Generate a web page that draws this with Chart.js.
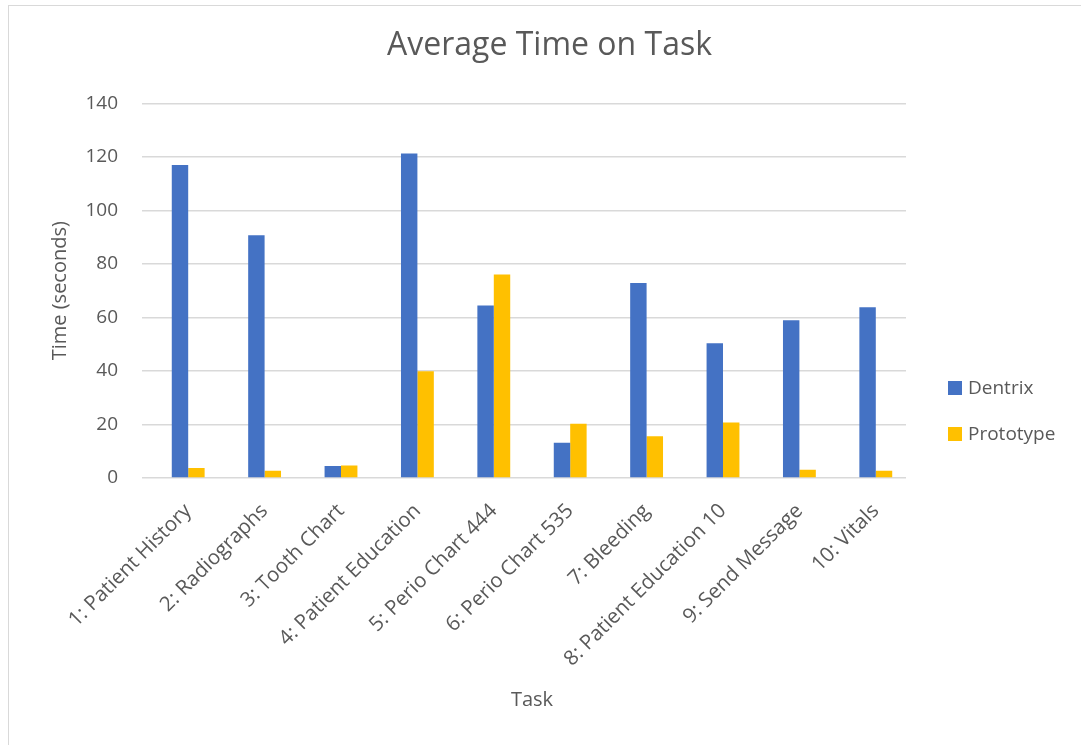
<!DOCTYPE html>
<html>
<head>
<meta charset="utf-8">
<script src="https://cdn.jsdelivr.net/npm/chart.js@4"></script>
<style>
  body { margin: 0; background: #fff; }
  #wrap { position: relative; width: 1081px; height: 745px; }
  #frame { position: absolute; left: 8px; top: 5px; right: -2px; bottom: -2px; border-left: 1.5px solid #d9d9d9; border-top: 1.5px solid #d9d9d9; }
  canvas { position: absolute; left: 0; top: 0; }
</style>
</head>
<body>
<div id="wrap">
  <div id="frame"></div>
  <canvas id="chart" width="1081" height="745"></canvas>
</div>
<script>
const tasks = ['1: Patient History', '2: Radiographs', '3: Tooth Chart', '4: Patient Education',
    '5: Perio Chart 444', '6: Perio Chart 535', '7: Bleeding', '8: Patient Education 10',
    '9: Send Message', '10: Vitals'];
const dentrix = [117, 90.7, 4.5, 121.3, 64.5, 13.2, 72.9, 50.4, 59, 63.8];
const prototype = [3.7, 2.7, 4.7, 39.9, 76.1, 20.3, 15.6, 20.7, 3.1, 2.7];
const yTicks = [0, 20, 40, 60, 80, 100, 120, 140];

const textColor = '#595959';
const font = 'Open Sans';

// Excel-like legend on the right
const sideLegend = {
    id: 'sideLegend',
    afterDraw(chart) {
        const c = chart.ctx;
        c.save();
        c.font = '19px "' + font + '"';
        c.textBaseline = 'middle';
        chart.data.datasets.forEach((ds, i) => {
            const y = 388 + i * 46;
            c.fillStyle = ds.backgroundColor;
            c.fillRect(948, y - 7, 14, 14);
            c.fillStyle = textColor;
            c.fillText(ds.label, 968, y + 1);
        });
        c.restore();
    }
};

// categories sit a few px right of the gridlines in the original
const shiftX = {
    id: 'shiftX',
    afterLayout(chart) {
        const x = chart.scales.x;
        x.left += 8;
        x.right += 8;
        x.configure();
    }
};

const chart = new Chart(document.getElementById('chart'), {
    type: 'bar',
    data: {
        labels: tasks,
        datasets: [{
            label: 'Dentrix',
            data: dentrix,
            backgroundColor: '#4472C4',
            categoryPercentage: 0.43,
            barPercentage: 1
        }, {
            label: 'Prototype',
            data: prototype,
            backgroundColor: '#FFC000',
            categoryPercentage: 0.43,
            barPercentage: 1
        }]
    },
    options: {
        responsive: false,
        animation: false,
        layout: { padding: { left: 18, right: 0, top: 0, bottom: 0 } },
        plugins: {
            legend: { display: false },
            tooltip: { enabled: false },
            title: {
                display: true,
                text: 'Average Time on Task',
                color: textColor,
                font: { family: font, size: 32, weight: 'normal', lineHeight: 1.2 },
                padding: { top: 27, bottom: 38 }
            }
        },
        scales: {
            x: {
                grid: { display: false },
                border: { display: false },
                ticks: {
                    color: textColor,
                    font: { family: font, size: 20.5 },
                    minRotation: 45,
                    maxRotation: 45,
                    autoSkip: false,
                    padding: 13
                },
                title: {
                    display: true,
                    text: 'Task',
                    color: textColor,
                    font: { family: font, size: 20 },
                    padding: { top: 4, bottom: 33 }
                },
                afterFit(scale) { scale.height = 267; }
            },
            y: {
                min: 0,
                max: 140,
                afterBuildTicks(scale) { scale.ticks = yTicks.map(v => ({ value: v })); },
                grid: { color: '#d9d9d9', lineWidth: 1.5, drawTicks: false },
                border: { display: false },
                ticks: {
                    color: textColor,
                    font: { family: font, size: 19 },
                    padding: 24
                },
                title: {
                    display: true,
                    text: 'Time (seconds)',
                    color: textColor,
                    font: { family: font, size: 20 },
                    padding: { top: 30 }
                },
                afterFit(scale) { scale.width = 124; }
            },
            // empty box on the right that holds the legend space
            side: {
                position: 'right',
                display: true,
                grid: { display: false },
                border: { display: false },
                ticks: { display: false },
                afterFit(scale) { scale.width = 175; }
            }
        }
    },
    plugins: [sideLegend, shiftX]
});
</script>
</body>
</html>
